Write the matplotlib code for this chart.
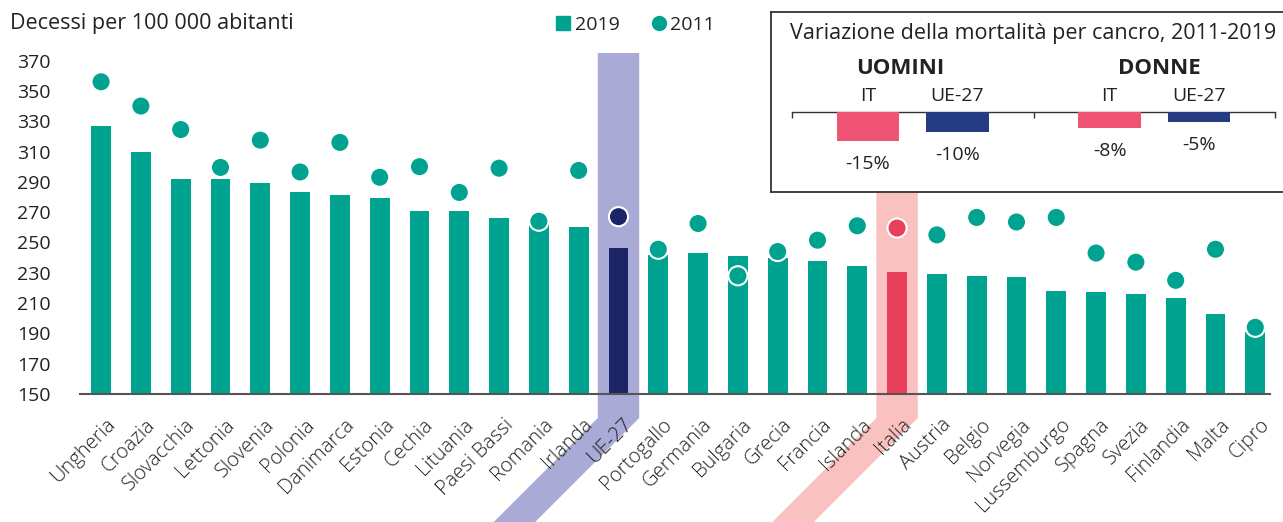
import matplotlib
matplotlib.use("Agg")
import matplotlib.pyplot as plt
import matplotlib.transforms as mtransforms
from matplotlib.patches import Polygon
from matplotlib.lines import Line2D

# dati
paesi = ["Ungheria", "Croazia", "Slovacchia", "Lettonia", "Slovenia", "Polonia",
         "Danimarca", "Estonia", "Cechia", "Lituania", "Paesi Bassi", "Romania",
         "Irlanda", "UE-27", "Portogallo", "Germania", "Bulgaria", "Grecia",
         "Francia", "Islanda", "Italia", "Austria", "Belgio", "Norvegia",
         "Lussemburgo", "Spagna", "Svezia", "Finlandia", "Malta", "Cipro"]
val_2019 = [327, 310, 292, 292, 289, 283, 281.5, 279, 271, 270.5, 266, 262,
            260.5, 246.5, 242, 243, 241, 240, 238, 234.5, 230.5, 229, 228, 227,
            218, 217.5, 216, 213.5, 202.5, 191]
val_2011 = [356, 340, 324.5, 299.5, 317.5, 296.5, 316, 293, 300, 283, 299, 264,
            297.5, 267, 245.5, 262.5, 228, 244, 251.5, 261, 259.5, 255, 266.5,
            263.5, 266.5, 243, 237, 225, 245.5, 194]
y_ticks = list(range(150, 371, 20))

gruppi = ["UOMINI", "DONNE"]
serie = ["IT", "UE-27"]
variazioni = [[-15, -10], [-8, -5]]

verde = "#00a38f"
evidenza = {"UE-27": ("#1b2566", "#a9abd6"), "Italia": ("#e8405a", "#f9c1c0")}
colori_inset = ["#f05474", "#253b82"]
testo = "#222222"

plt.rcParams["font.family"] = ["Open Sans", "DejaVu Sans"]

W, H = 1283, 522
fig = plt.figure(figsize=(W / 100, H / 100), dpi=100)
ax = fig.add_axes([80 / W, 1 - 394 / H, (1270 - 80) / W, (394 - 53) / H])
ax.patch.set_visible(False)

x = list(range(len(paesi)))
colori = [evidenza[p][0] if p in evidenza else verde for p in paesi]

ax.bar(x, val_2019, width=0.5, color=colori, zorder=2)
ax.scatter(x, val_2011, s=190, c=colori, edgecolors="white", linewidths=1.5,
           zorder=3, clip_on=False)

ax.set_xlim(-0.53, 29.37)
ax.set_ylim(150, 375)
ax.set_yticks(y_ticks)
ax.set_yticklabels([str(v) for v in y_ticks], fontsize=14, color=testo)
ax.tick_params(axis="y", length=0, pad=21)
ax.set_xticks(x)
ax.set_xticklabels(paesi, rotation=45, ha="right", va="top", rotation_mode="anchor",
                   fontsize=14.5, color=testo, fontweight="light")
ax.tick_params(axis="x", length=0, pad=15)
# piccolo spostamento a destra delle etichette
sposta = mtransforms.ScaledTranslation(4 / 100, 0, fig.dpi_scale_trans)
for lab in ax.get_xticklabels():
    lab.set_transform(lab.get_transform() + sposta)
for s in ["top", "right", "left"]:
    ax.spines[s].set_visible(False)
ax.spines["bottom"].set_color("#555555")
ax.spines["bottom"].set_linewidth(1.5)
ax.spines["bottom"].set_zorder(4)

# fasce evidenziate (verticali + oblique sotto l'asse)
for nome, (_, fascia) in evidenza.items():
    i = paesi.index(nome)
    xl, ytop = ax.transData.transform((i - 0.52, 375))
    xr, ybase = ax.transData.transform((i + 0.52, 150))
    yk = ybase - 24
    pts = [(xl, ytop), (xr, ytop), (xr, yk), (xr - yk - 10, -10),
           (xl - yk - 10, -10), (xl, yk)]
    fig.add_artist(Polygon(pts, closed=True, transform=mtransforms.IdentityTransform(),
                           facecolor=fascia, edgecolor="none", zorder=-1))

fig.text(10 / W, 1 - 24 / H, "Decessi per 100 000 abitanti", ha="left", va="center",
         fontsize=15.5, color=testo)

maniglie = [Line2D([], [], marker="s", ls="", color=verde, ms=9.5),
            Line2D([], [], marker="o", ls="", color=verde, ms=10)]
fig.legend(maniglie, ["2019", "2011"], loc="center left",
           bbox_to_anchor=(538 / W, 1 - 25 / H), ncol=2, frameon=False,
           handletextpad=0.2, columnspacing=1.6, handlelength=0.8, fontsize=14,
           labelcolor=testo)

# riquadro con le variazioni 2011-2019
ax2 = fig.add_axes([771 / W, 1 - 192 / H, (1290 - 771) / W, (192 - 12) / H], zorder=5)
ax2.set_facecolor("white")
ax2.set_xlim(-21 / 120.75, (1290 - 792) / 120.75)
ax2.set_ylim(-80 / 1.96, 100 / 1.96)
ax2.set_xticks([])
ax2.set_yticks([])
for s in ax2.spines.values():
    s.set_color("#333333")
    s.set_linewidth(1.3)

ax2.text(-0.02, 40.3, "Variazione della mortalità per cancro, 2011-2019", ha="left",
         va="center", fontsize=15.5, color=testo)
ax2.plot([0, 4], [0, 0], color="#333333", lw=1, zorder=1)
ax2.vlines([0, 2, 4], -3, 0, color="#333333", lw=1)
spost_titolo = [-0.1, 0.04]
for g, gruppo in enumerate(gruppi):
    centro = 2 * g + 1
    ax2.text(centro + spost_titolo[g], 22.4, gruppo, ha="center", va="center",
             fontsize=16, fontweight="bold", color=testo)
    pos = [centro - 0.37, centro + 0.37]
    ax2.bar(pos, variazioni[g], width=0.52, color=colori_inset, zorder=2)
    for p, nome, v in zip(pos, serie, variazioni[g]):
        ax2.text(p, 8.2, nome, ha="center", va="center", fontsize=14, color=testo)
        ax2.text(p, v - 11.7, f"{v}%", ha="center", va="center", fontsize=14,
                 color=testo)

fig.savefig("out.png", dpi=100)
